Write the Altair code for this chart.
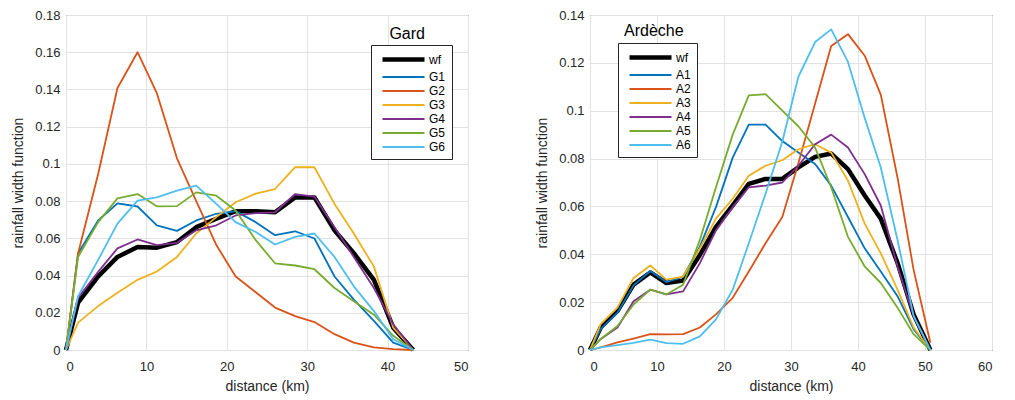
import altair as alt
import pandas as pd

# ---------------- data ----------------
gard_names = ["wf", "G1", "G2", "G3", "G4", "G5", "G6"]
gard_x = [0, 1.5, 4.0, 6.4, 8.9, 11.3, 13.8, 16.2, 18.7, 21.1, 23.6, 26.0, 28.5, 30.9, 33.4, 35.8, 38.3, 40.7, 43.2]
gard_wf = [0, 0.0254, 0.0395, 0.050, 0.0554, 0.055, 0.058, 0.066, 0.0705, 0.0746, 0.0745, 0.074, 0.082, 0.082, 0.0643, 0.052, 0.0377, 0.012, 0]
gard_g1 = [0, 0.0519, 0.0696, 0.0788, 0.0771, 0.067, 0.064, 0.0696, 0.0732, 0.0746, 0.0687, 0.0617, 0.0638, 0.0599, 0.0395, 0.0271, 0.0156, 0.004, 0]
gard_g2 = [0, 0.0518, 0.0946, 0.1408, 0.160, 0.138, 0.103, 0.080, 0.0564, 0.0395, 0.031, 0.0228, 0.0182, 0.015, 0.0085, 0.004, 0.0014, 0.0005, 0]
gard_g3 = [0, 0.0147, 0.0236, 0.0307, 0.0377, 0.0422, 0.050, 0.0626, 0.0714, 0.0794, 0.084, 0.0865, 0.0983, 0.0982, 0.0785, 0.0626, 0.0448, 0.012, 0]
gard_g4 = [0, 0.028, 0.042, 0.0546, 0.0594, 0.0564, 0.0576, 0.0643, 0.067, 0.0723, 0.0735, 0.074, 0.0838, 0.0824, 0.066, 0.050, 0.0333, 0.0138, 0]
gard_g5 = [0, 0.050, 0.0687, 0.0815, 0.0838, 0.0772, 0.0773, 0.0847, 0.0829, 0.075, 0.059, 0.0466, 0.0454, 0.0434, 0.0333, 0.0262, 0.019, 0.0076, 0]
gard_g6 = [0, 0.0289, 0.0484, 0.0679, 0.0803, 0.082, 0.0856, 0.0883, 0.0785, 0.0687, 0.0634, 0.0567, 0.0608, 0.0626, 0.050, 0.0342, 0.0209, 0.0058, 0]

ard_names = ["wf", "A1", "A2", "A3", "A4", "A5", "A6"]
ard_x = [0, 1.6, 4.1, 6.5, 9.0, 11.4, 13.9, 16.4, 18.8, 21.3, 23.7, 26.2, 28.7, 31.1, 33.6, 36.0, 38.5, 41.0, 43.4, 45.9, 48.3, 50.8]
ard_wf = [0, 0.0094, 0.0163, 0.0273, 0.0324, 0.028, 0.029, 0.0397, 0.0515, 0.0604, 0.0694, 0.0715, 0.0715, 0.0763, 0.0807, 0.0821, 0.0756, 0.0646, 0.0549, 0.0364, 0.0149, 0]
ard_a1 = [0, 0.0087, 0.0156, 0.027, 0.033, 0.0284, 0.0307, 0.0432, 0.0597, 0.0804, 0.0942, 0.0942, 0.0873, 0.0825, 0.0777, 0.0687, 0.0556, 0.0425, 0.0328, 0.0225, 0.0087, 0]
ard_a2 = [0, 0.0011, 0.0032, 0.0048, 0.0066, 0.0065, 0.0066, 0.0094, 0.0149, 0.0218, 0.0328, 0.0446, 0.0556, 0.078, 0.103, 0.127, 0.132, 0.123, 0.1067, 0.072, 0.0335, 0.003]
ard_a3 = [0, 0.0108, 0.0177, 0.0301, 0.0353, 0.0294, 0.0307, 0.0425, 0.0549, 0.0632, 0.0728, 0.077, 0.0793, 0.0839, 0.086, 0.0825, 0.0708, 0.0528, 0.0404, 0.0252, 0.0094, 0]
ard_a4 = [0, 0.0046, 0.0094, 0.0204, 0.0252, 0.0232, 0.0245, 0.0363, 0.050, 0.0597, 0.068, 0.0687, 0.070, 0.077, 0.086, 0.090, 0.0846, 0.0735, 0.0604, 0.0349, 0.0142, 0]
ard_a5 = [0, 0.0046, 0.010, 0.019, 0.0252, 0.0232, 0.0273, 0.046, 0.068, 0.090, 0.1064, 0.1069, 0.100, 0.0935, 0.0846, 0.068, 0.0473, 0.0349, 0.028, 0.0177, 0.0066, 0]
ard_a6 = [0, 0.0011, 0.002, 0.003, 0.0043, 0.0029, 0.0026, 0.0057, 0.0128, 0.0252, 0.0446, 0.0653, 0.087, 0.1142, 0.1287, 0.134, 0.1204, 0.097, 0.0763, 0.046, 0.0142, 0]

gard_xticks = [0, 10, 20, 30, 40, 50]
gard_yticks = [0, 0.02, 0.04, 0.06, 0.08, 0.1, 0.12, 0.14, 0.16, 0.18]
ard_xticks = [0, 10, 20, 30, 40, 50, 60]
ard_yticks = [0, 0.02, 0.04, 0.06, 0.08, 0.1, 0.12, 0.14]

series_colors = ["#000000", "#0072BD", "#D95319", "#EDB120", "#7E2F8E", "#77AC30", "#4DBEEE"]
series_widths = [4.5, 1.8, 1.8, 1.8, 1.8, 1.8, 1.8]

FONT = "Liberation Sans"
TXT = "#262626"


def long_table(x, names, columns):
    rows = []
    for name, vals in zip(names, columns):
        for xx, yy in zip(x, vals):
            rows.append({"distance": xx, "value": yy, "series": name})
    return pd.DataFrame(rows)


def panel(df, names, xmax, xticks, ymax, yticks, title, anchor, dx, offset, lx, ly):
    leg = alt.Legend(
        title=None, orient="none", legendX=lx, legendY=ly,
        strokeColor=TXT, fillColor="white", padding=6,
        symbolType="M-3.5,0H3.5", symbolSize=144, symbolOffset=18,
        labelFontSize=12, labelFont=FONT, labelColor="#000000",
        rowPadding=1, labelOffset=17,
    )
    return alt.Chart(
        df,
        title=alt.TitleParams(title, anchor=anchor, frame="group", dx=dx, offset=offset,
                              fontSize=16, font=FONT, fontWeight="normal", color="#000000"),
    ).mark_line(strokeJoin="round").encode(
        x=alt.X("distance:Q", scale=alt.Scale(domain=[0, xmax], nice=False),
                axis=alt.Axis(values=xticks, title="distance (km)", format="d")),
        y=alt.Y("value:Q", scale=alt.Scale(domain=[0, ymax], nice=False),
                axis=alt.Axis(values=yticks, title="rainfall width function", format=".2~f")),
        color=alt.Color("series:N", scale=alt.Scale(domain=names, range=series_colors), legend=leg),
        strokeWidth=alt.StrokeWidth("series:N",
                                    scale=alt.Scale(type="ordinal", domain=names, range=series_widths),
                                    legend=leg),
    ).properties(width=402, height=335)


gard_df = long_table(gard_x, gard_names, [gard_wf, gard_g1, gard_g2, gard_g3, gard_g4, gard_g5, gard_g6])
ard_df = long_table(ard_x, ard_names, [ard_wf, ard_a1, ard_a2, ard_a3, ard_a4, ard_a5, ard_a6])

left = panel(gard_df, gard_names, 50, gard_xticks, 0.18, gard_yticks, "Gard", "end", -43, -33, 305, 30)
right = panel(ard_df, ard_names, 60, ard_xticks, 0.14, ard_yticks, "Ardèche", "start", 34, -30, 28, 28)

chart = alt.hconcat(left, right, spacing=66).resolve_scale(
    color="independent", strokeWidth="independent", x="independent", y="independent"
).properties(
    padding={"left": 3, "top": 0, "right": 0, "bottom": 0}
).configure_view(
    stroke=TXT, strokeWidth=1
).configure_axis(
    domain=False, ticks=False, grid=True, gridColor="#e2e2e2", gridWidth=1,
    labelFont=FONT, labelFontSize=13, labelColor=TXT, labelPadding=6,
    titleFont=FONT, titleFontSize=14, titleFontWeight="normal", titleColor=TXT,
).configure_axisY(
    titlePadding=9
).configure_axisX(
    titlePadding=6, labelPadding=10
)

chart.save("out.html", embed_options={"renderer": "svg", "actions": False})
